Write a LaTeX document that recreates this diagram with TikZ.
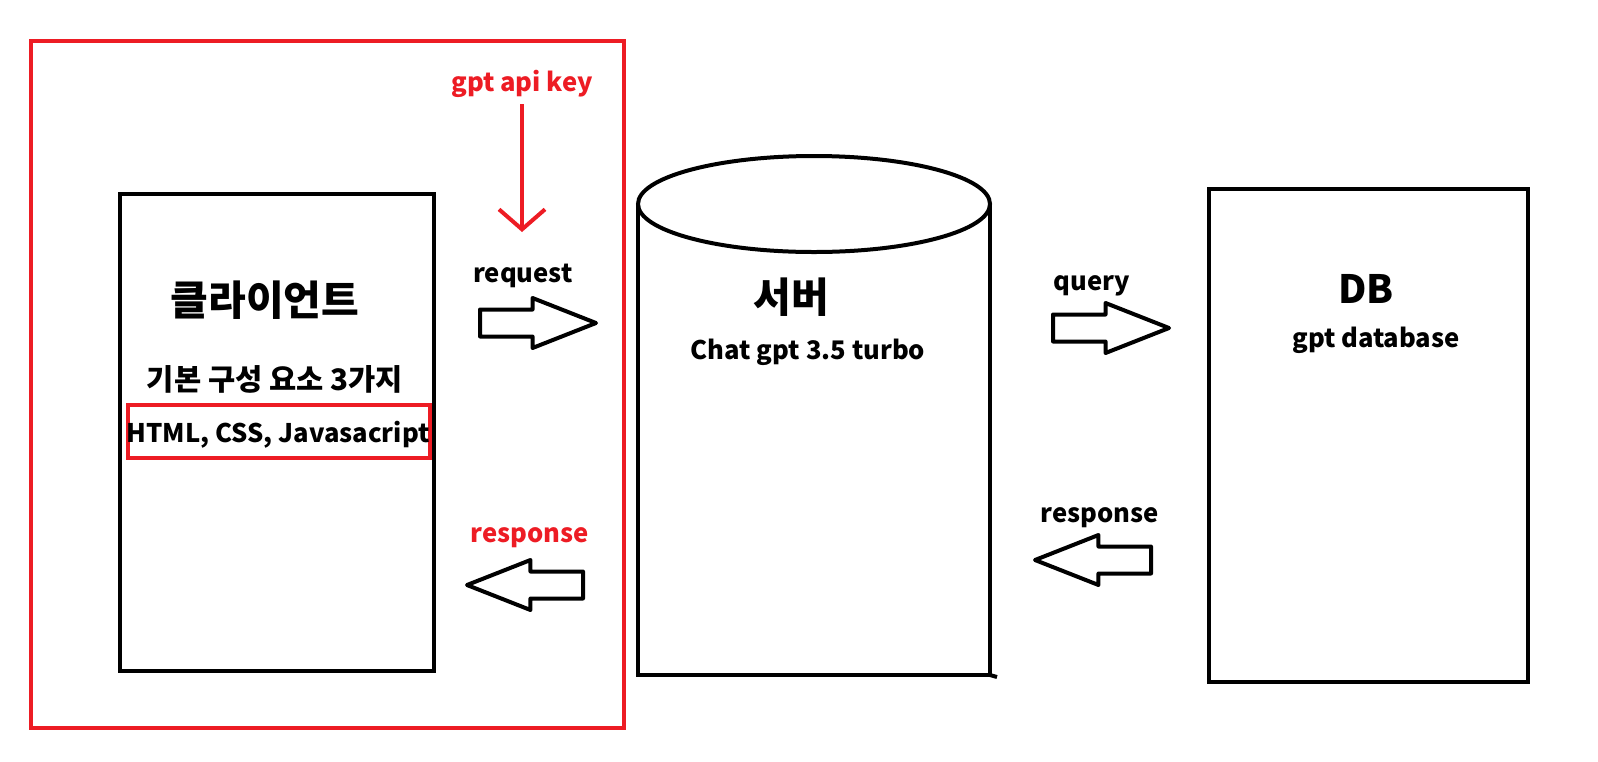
\documentclass[tikz,border=0pt]{standalone}
\usepackage{fontspec}
\setmainfont{Noto Sans CJK KR}
\usepackage{xcolor}
\usepackage{tikz}
\usetikzlibrary{shapes.arrows, arrows.meta, positioning}
\definecolor{paintred}{RGB}{237,28,36}

\begin{document}
\begin{tikzpicture}[x=0.5pt, y=-0.5pt,
    box/.style={draw=black, line width=2pt},
    redbox/.style={draw=paintred, line width=2pt},
    blockarrow/.style={single arrow, draw=black, line width=2pt, line join=round,
        minimum height=58pt, inner xsep=0pt, inner ysep=5.75pt,
        single arrow head extend=5.75pt, single arrow tip angle=43, anchor=tail},
    lbl/.style={font=\bfseries\fontsize{12.8pt}{15pt}\selectfont, inner sep=1pt},
    title/.style={font=\bfseries\fontsize{20.5pt}{24pt}\selectfont, inner sep=1pt}
]
    \useasboundingbox (0,0) rectangle (1598,761);

    % client side (red frame)
    \draw[redbox] (31,41) rectangle (624,728);
    \draw[box] (120,194) rectangle (434,671);
    \node[title] (client) at (265,300) {클라이언트};
    \node[lbl, font=\bfseries\fontsize{14.8pt}{17pt}\selectfont] (parts) at (275,379) {기본 구성 요소 3가지};
    \draw[redbox] (128,405) rectangle (430,458);
    \node[lbl] (langs) at (278,435) {HTML, CSS, Javasacript};

    % api key
    \node[lbl, text=paintred] (key) at (522,84) {gpt api key};
    \coordinate (keyend) at (522,232);
    \draw[paintred, line width=2pt, shorten <=2pt,
        -{Straight Barb[length=10pt, width=23pt, line width=2pt]}] (key) -- (keyend);

    % client <-> server
    \node[blockarrow] (req) at (478,323) {};
    \node[lbl] (reqlabel) at (523,276) {request};
    \node[blockarrow, shape border rotate=180] (resp) at (585,585) {};
    \node[lbl, text=paintred] (resplabel) at (530,538) {response};

    % server (cylinder)
    \draw[box] (638,204) -- (638,675) -- (990,675) -- (990,204);
    \draw[box] (990,675) -- (997,677);
    \draw[box] (814,204) ellipse [x radius=88pt, y radius=24pt];
    \node[title] (server) at (791,297) {서버};
    \node[lbl] (model) at (808,352) {Chat gpt 3.5 turbo};

    % server <-> DB
    \node[blockarrow] (query) at (1051,328) {};
    \node[lbl] (querylabel) at (1092,286) {query};
    \node[blockarrow, shape border rotate=180] (dbresp) at (1153,560) {};
    \node[lbl] (dbresplabel) at (1100,518) {response};

    % DB
    \draw[box] (1209,189) rectangle (1528,682);
    \node[title, font=\bfseries\fontsize{19.5pt}{23pt}\selectfont] (db) at (1366,289) {DB};
    \node[lbl] (dbname) at (1376,340) {gpt database};
\end{tikzpicture}
\end{document}
